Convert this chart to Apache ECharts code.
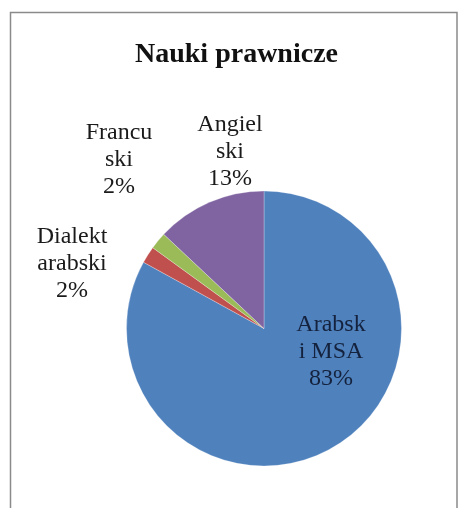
<!DOCTYPE html>
<html>
<head>
<meta charset="utf-8">
<script src="https://cdn.jsdelivr.net/npm/echarts@6/dist/echarts.min.js"></script>
<style>
  html, body { margin: 0; padding: 0; background: #fff; }
  #chart { width: 459px; height: 508px; }
</style>
</head>
<body>
<div id="chart"></div>
<script>
// Language shares for the "Nauki prawnicze" (law studies) group
const categories = ['Arabsk\ni MSA', 'Dialekt\narabski', 'Francu\nski', 'Angiel\nski'];
const shares = [83, 2, 2, 13];
const colors = ['#4F81BD', '#C0504D', '#9BBB59', '#8064A2'];

// Label anchor points (label centres, in px)
const labelAnchors = [[331, 352], [72, 264], [119, 160], [230, 152]];

const chart = echarts.init(document.getElementById('chart'), null, { renderer: 'canvas' });

const serif = '"Liberation Serif", "Times New Roman", serif';

chart.setOption({
  backgroundColor: '#ffffff',
  animation: false,
  title: {
    text: 'Nauki prawnicze',
    left: 130,
    top: 36,
    textStyle: { fontFamily: serif, fontWeight: 'bold', fontSize: 28, color: '#111' }
  },
  graphic: [{
    type: 'rect',
    shape: { x: 10.5, y: 12.5, width: 446.5, height: 510 },
    style: { fill: 'none', stroke: '#8a8a8a', lineWidth: 1.5 },
    silent: true
  }],
  series: [{
    type: 'pie',
    center: [264, 328.5],
    radius: [0, 137.5],
    startAngle: 90,
    clockwise: true,
    avoidLabelOverlap: false,
    itemStyle: { borderColor: 'rgba(255,255,255,0.45)', borderWidth: 0.6 },
    label: {
      show: true,
      position: 'outside',
      formatter: p => p.name + '\n' + p.value + '%',
      fontFamily: serif,
      fontSize: 24,
      lineHeight: 27,
      color: '#1a1a1a',
      align: 'center'
    },
    labelLine: { show: false },
    labelLayout: params => {
      const a = labelAnchors[params.dataIndex];
      return { x: a[0], y: a[1], align: 'center', verticalAlign: 'middle' };
    },
    data: categories.map((name, i) => ({
      name: name,
      value: shares[i],
      itemStyle: { color: colors[i] },
      label: i === 0 ? { color: '#14223d' } : {}
    }))
  }]
});
</script>
</body>
</html>
